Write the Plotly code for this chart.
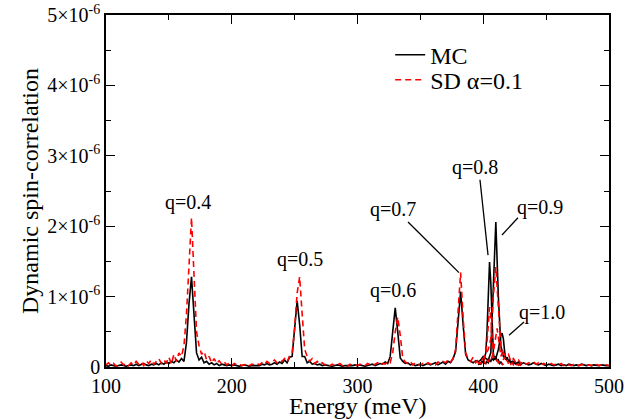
import plotly.graph_objects as go

# ---- data (values in units of 1e-6) ----
energy = list(range(100, 502, 2))  # meV, 2 meV grid

mc_main_e6 = [
    0.02,0.01,0.03,0.02,0.01,0.02,0.03,0.02,0.01,0.02,
    0.03,0.02,0.04,0.02,0.03,0.05,0.03,0.02,0.04,0.03,
    0.05,0.03,0.06,0.04,0.07,0.05,0.08,0.06,0.10,0.07,
    0.12,0.08,0.35,0.90,1.28,0.75,0.20,0.10,0.14,0.06,
    0.08,0.04,0.06,0.03,0.05,0.02,0.04,0.03,0.02,0.03,
    0.02,0.03,0.02,0.01,0.02,0.03,0.02,0.01,0.02,0.02,
    0.03,0.02,0.04,0.03,0.05,0.03,0.04,0.06,0.04,0.07,
    0.05,0.10,0.06,0.14,0.15,0.55,0.94,0.60,0.15,0.15,
    0.06,0.08,0.04,0.05,0.03,0.04,0.02,0.03,0.02,0.02,
    0.01,0.02,0.03,0.02,0.01,0.02,0.02,0.01,0.02,0.03,
    0.02,0.03,0.02,0.01,0.02,0.03,0.04,0.02,0.03,0.05,
    0.04,0.07,0.05,0.15,0.50,0.84,0.50,0.13,0.08,0.05,
    0.06,0.03,0.04,0.02,0.03,0.04,0.02,0.03,0.05,0.03,
    0.04,0.06,0.03,0.05,0.07,0.04,0.08,0.06,0.12,0.22,
    0.60,1.07,0.60,0.18,0.10,0.08,0.06,0.09,0.07,0.10,
    0.15,0.12,0.10,0.20,1.10,2.06,1.00,0.30,0.15,0.12,
    0.10,0.06,0.08,0.05,0.07,0.04,0.06,0.05,0.03,0.04,
    0.06,0.04,0.03,0.05,0.04,0.02,0.04,0.03,0.02,0.03,
    0.04,0.02,0.03,0.02,0.04,0.03,0.02,0.03,0.02,0.04,
    0.03,0.02,0.03,0.02,0.03,0.02,0.02,0.03,0.02,0.02,
    0.02,
]

sd_main_e6 = [
    0.03,0.06,0.02,0.05,0.01,0.04,0.07,0.03,0.05,0.02,
    0.06,0.03,0.08,0.04,0.07,0.02,0.09,0.05,0.10,0.04,
    0.08,0.12,0.05,0.10,0.06,0.14,0.04,0.18,0.08,0.20,
    0.15,0.30,0.75,1.55,2.12,1.30,0.50,0.30,0.18,0.22,
    0.10,0.15,0.06,0.12,0.05,0.09,0.04,0.07,0.03,0.06,
    0.02,0.05,0.03,0.04,0.02,0.03,0.05,0.02,0.04,0.03,
    0.05,0.03,0.06,0.04,0.08,0.05,0.07,0.10,0.06,0.09,
    0.08,0.12,0.07,0.16,0.20,0.55,1.05,1.28,0.75,0.25,
    0.15,0.08,0.12,0.05,0.08,0.04,0.06,0.03,0.05,0.02,
    0.04,0.02,0.03,0.05,0.02,0.03,0.01,0.04,0.02,0.03,
    0.02,0.04,0.03,0.02,0.05,0.03,0.02,0.04,0.06,0.03,
    0.05,0.04,0.08,0.06,0.20,0.50,0.71,0.45,0.12,0.07,
    0.05,0.08,0.03,0.06,0.04,0.02,0.05,0.03,0.06,0.04,
    0.05,0.03,0.07,0.05,0.08,0.06,0.10,0.07,0.12,0.25,
    0.80,1.34,0.70,0.20,0.12,0.08,0.14,0.06,0.10,0.08,
    0.12,0.18,0.25,0.40,1.00,1.42,0.85,0.30,0.20,0.15,
    0.18,0.08,0.12,0.06,0.10,0.05,0.08,0.04,0.06,0.05,
    0.07,0.04,0.06,0.03,0.05,0.04,0.02,0.05,0.03,0.04,
    0.03,0.05,0.02,0.04,0.03,0.02,0.04,0.03,0.02,0.03,
    0.04,0.02,0.03,0.02,0.03,0.04,0.02,0.03,0.02,0.03,
    0.02,
]

energy_q08 = list(range(396, 417))  # 1 meV grid
mc_q08_e6 = [0.03,0.05,0.04,0.08,0.06,0.12,0.20,0.50,1.05,1.49,1.20,
             0.60,0.20,0.10,0.14,0.08,0.10,0.05,0.07,0.04,0.03]
sd_q08_e6 = [0.04,0.07,0.05,0.10,0.08,0.14,0.20,0.35,0.60,0.85,0.70,
             0.35,0.15,0.12,0.08,0.10,0.06,0.08,0.04,0.05,0.03]

energy_q10 = list(range(400, 431))
mc_q10_e6 = [0.04,0.06,0.05,0.08,0.06,0.10,0.08,0.12,0.10,0.15,0.12,
             0.18,0.25,0.35,0.45,0.48,0.40,0.22,0.10,0.14,0.08,0.10,
             0.06,0.08,0.05,0.06,0.04,0.05,0.03,0.04,0.02]
sd_q10_e6 = [0.05,0.08,0.04,0.10,0.07,0.12,0.09,0.15,0.20,0.32,0.45,
             0.55,0.42,0.25,0.15,0.20,0.10,0.14,0.07,0.10,0.05,0.08,
             0.04,0.06,0.03,0.05,0.02,0.04,0.03,0.02,0.02]

y_tick_vals_e6 = [0, 1, 2, 3, 4, 5]
y_tick_text = ["0"] + [f"{v}×10<sup>-6</sup>" for v in [1, 2, 3, 4, 5]]
x_tick_vals = [100, 200, 300, 400, 500]

labels = ["q=0.4", "q=0.5", "q=0.6", "q=0.7", "q=0.8", "q=0.9", "q=1.0"]
label_E = [165.2, 254.3, 328.2, 328.2, 393.4, 445.1, 446.7]
label_v_e6 = [2.33, 1.52, 1.09, 2.24, 2.84, 2.27, 0.77]
# pointer lines: (E0, v0, E1, v1)
pointer_lines = [
    (340.2, 2.06, 380.7, 1.34),
    (397.4, 2.66, 403.8, 1.59),
    (427.6, 2.12, 414.9, 1.875),
    (432.4, 0.64, 420.5, 0.45),
]

S = 1e-6
def sc(a):
    return [v * S for v in a]

FONT = "Liberation Serif, Times New Roman, Times, serif"
BLACK_W = 1.6
RED_W = 1.6
RED_DASH = "6px,4px"

fig = go.Figure()
fig.add_trace(go.Scatter(x=energy, y=sc(mc_main_e6), mode="lines", name="MC",
                         legend="legend",
                         line=dict(color="black", width=BLACK_W)))
fig.add_trace(go.Scatter(x=energy_q08, y=sc(mc_q08_e6), mode="lines", showlegend=False,
                         line=dict(color="black", width=BLACK_W)))
fig.add_trace(go.Scatter(x=energy_q10, y=sc(mc_q10_e6), mode="lines", showlegend=False,
                         line=dict(color="black", width=BLACK_W)))
fig.add_trace(go.Scatter(x=energy, y=sc(sd_main_e6), mode="lines", name="SD α=0.1",
                         legend="legend2",
                         line=dict(color="red", width=RED_W, dash=RED_DASH)))
fig.add_trace(go.Scatter(x=energy_q08, y=sc(sd_q08_e6), mode="lines", showlegend=False,
                         line=dict(color="red", width=RED_W, dash=RED_DASH)))
fig.add_trace(go.Scatter(x=energy_q10, y=sc(sd_q10_e6), mode="lines", showlegend=False,
                         line=dict(color="red", width=RED_W, dash=RED_DASH)))

for t, e, v in zip(labels, label_E, label_v_e6):
    fig.add_annotation(x=e, y=v * S, text=t, showarrow=False,
                       font=dict(family=FONT, size=20, color="black"))

for (e0, v0, e1, v1) in pointer_lines:
    fig.add_shape(type="line", x0=e0, y0=v0 * S, x1=e1, y1=v1 * S,
                  xref="x", yref="y", line=dict(color="black", width=1.3))

# x-axis title as paper annotation below the tick labels
fig.add_annotation(x=0.5, y=0, xref="paper", yref="paper", yshift=-39,
                   yanchor="middle", xanchor="center",
                   text="Energy (meV)", showarrow=False,
                   font=dict(family=FONT, size=24, color="black"))

leg_common = dict(xanchor="left", yanchor="middle", bgcolor="rgba(0,0,0,0)",
                  font=dict(family=FONT, size=24), itemwidth=30)
fig.update_layout(
    width=644, height=419,
    margin=dict(l=106, r=35, t=15, b=52),
    paper_bgcolor="white", plot_bgcolor="white",
    font=dict(family=FONT, size=20, color="black"),
    showlegend=True,
    legend=dict(x=0.565, y=0.886, **leg_common),
    legend2=dict(x=0.565, y=0.815, **leg_common),
)
fig.update_xaxes(
    range=[100, 500], tickvals=x_tick_vals, automargin=False,
    ticklabeloverflow="allow",
    showline=True, linecolor="black", linewidth=1.5, mirror="ticks",
    ticks="inside", ticklen=9, tickwidth=1, tickcolor="black",
    minor=dict(dtick=50, ticks="inside", ticklen=5, tickcolor="black"),
    showgrid=False, zeroline=False,
    tickfont=dict(family=FONT, size=20),
)
fig.update_yaxes(
    range=[0, 5e-6], tickvals=[v * S for v in y_tick_vals_e6], ticktext=y_tick_text,
    automargin=False, ticklabeloverflow="allow",
    showline=True, linecolor="black", linewidth=1.5, mirror="ticks",
    ticks="inside", ticklen=9, tickwidth=1, tickcolor="black",
    minor=dict(dtick=0.5e-6, ticks="inside", ticklen=5, tickcolor="black"),
    showgrid=False, zeroline=False,
    tickfont=dict(family=FONT, size=20),
    title=dict(text="Dynamic spin-correlation", font=dict(family=FONT, size=24), standoff=2),
)

# remove the page's default body margin so the figure fills the window exactly
fig.write_html("out.html", config={"displayModeBar": False},
               post_script="document.body.style.margin='0';")
